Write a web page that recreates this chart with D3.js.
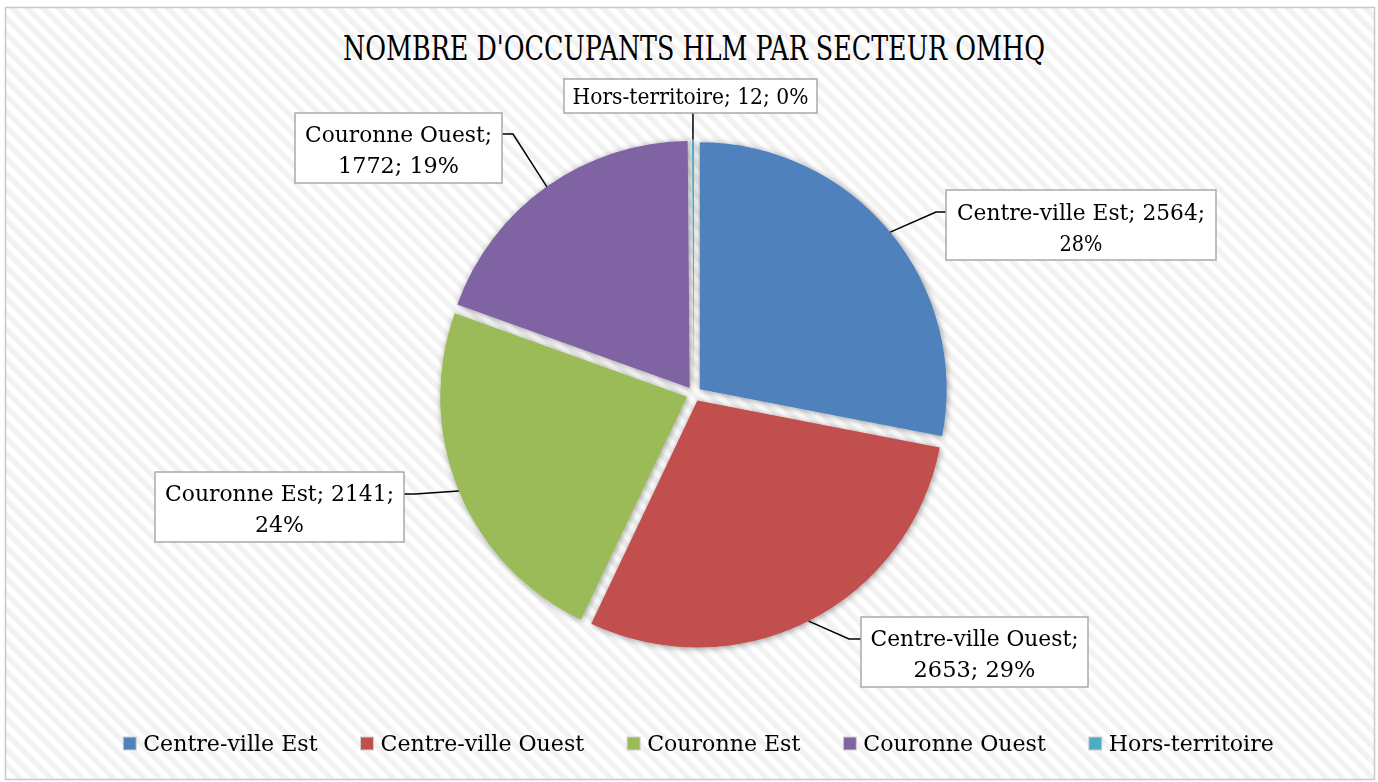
<!DOCTYPE html>
<html>
<head>
<meta charset="utf-8">
<script src="https://cdn.jsdelivr.net/npm/d3@7/dist/d3.min.js"></script>
<style>
  html, body { margin: 0; padding: 0; background: #ffffff; }
  svg { display: block; }
  text { font-family: "DejaVu Serif", "Liberation Serif", serif; fill: #000; }
</style>
</head>
<body>
<svg id="chart" width="1378" height="782"></svg>
<script>
// ---- data ----
const categories = ["Centre-ville Est", "Centre-ville Ouest", "Couronne Est", "Couronne Ouest", "Hors-territoire"];
const values = [2564, 2653, 2141, 1772, 12];
const percentLabels = [28, 29, 24, 19, 0];
const colors = ["#4F81BD", "#C0504D", "#9BBB59", "#8064A2", "#4BACC6"];
const title = "NOMBRE D'OCCUPANTS HLM PAR SECTEUR OMHQ";
// number of label parts on the first line (Excel wrapping)
const firstLineParts = [2, 1, 2, 1, 3];

// ---- layout ----
const W = 1378, H = 782;
const cx = 694, cy = 394, R = 247, explode = 7.4;
const labelLayout = [
  { box: [946, 190, 1216, 260], attach: [946, 212], elbow: [936, 212], baselines: [220, 251], widths: [248, 43] },
  { box: [861, 617, 1088, 687], attach: [861, 639], elbow: [849, 639], baselines: [646, 677], widths: [208, 122] },
  { box: [155, 472, 404, 542], attach: [404, 494], elbow: [415, 494], baselines: [501, 532], widths: [229, 49] },
  { box: [295, 113, 502, 183], attach: [502, 134], elbow: [513, 134], baselines: [142, 173], widths: [187, 121] },
  { box: [564, 79, 817, 113], attach: null, elbow: null, baselines: [104], widths: [236] }
];

const svg = d3.select("#chart");
const defs = svg.append("defs");

// diagonal hatch background
const pat = defs.append("pattern")
  .attr("id", "hatch")
  .attr("patternUnits", "userSpaceOnUse")
  .attr("width", 11).attr("height", 11)
  .attr("patternTransform", "rotate(-45)");
pat.append("rect").attr("width", 11).attr("height", 11).attr("fill", "#ffffff");
pat.append("rect").attr("width", 5.5).attr("height", 11).attr("fill", "#f2f2f2");

// shadow
const f = defs.append("filter").attr("id", "shadow")
  .attr("x", "-20%").attr("y", "-20%").attr("width", "140%").attr("height", "140%");
f.append("feDropShadow").attr("dx", 1).attr("dy", 1).attr("stdDeviation", 3)
  .attr("flood-color", "#000").attr("flood-opacity", 0.4);

svg.append("rect")
  .attr("x", 5.5).attr("y", 7.5).attr("width", 1369).attr("height", 772)
  .attr("fill", "url(#hatch)").attr("stroke", "#c8c8c8").attr("stroke-width", 1.5);

// title
svg.append("text")
  .attr("x", cx).attr("y", 60)
  .attr("text-anchor", "middle")
  .attr("font-size", 33)
  .attr("textLength", 702).attr("lengthAdjust", "spacingAndGlyphs")
  .text(title);

// pie
const pie = d3.pie().sort(null).value(d => d).startAngle(0).endAngle(2 * Math.PI);
const arcs = pie(values);
const arc = d3.arc().innerRadius(0).outerRadius(R);

const offsetOf = a => {
  const mid = (a.startAngle + a.endAngle) / 2;
  return [Math.sin(mid) * explode, -Math.cos(mid) * explode];
};

const pieG = svg.append("g").attr("transform", `translate(${cx},${cy})`).attr("filter", "url(#shadow)");
pieG.selectAll("path")
  .data(arcs)
  .join("path")
  .attr("transform", d => { const o = offsetOf(d); return `translate(${o[0]},${o[1]})`; })
  .attr("d", arc)
  .attr("fill", (d, i) => colors[i]);

// labels with leader lines
const labG = svg.append("g");
arcs.forEach((a, i) => {
  const L = labelLayout[i];
  const mid = (a.startAngle + a.endAngle) / 2;
  const o = offsetOf(a);
  const px = cx + o[0] + Math.sin(mid) * R;
  const py = cy + o[1] - Math.cos(mid) * R;
  let pts;
  if (L.attach) pts = [L.attach, L.elbow, [px, py]];
  else pts = [[px, L.box[3]], [px, py]];
  labG.append("path")
    .attr("d", d3.line()(pts))
    .attr("fill", "none").attr("stroke", "#000").attr("stroke-width", 1.5);
  labG.append("rect")
    .attr("x", L.box[0]).attr("y", L.box[1])
    .attr("width", L.box[2] - L.box[0]).attr("height", L.box[3] - L.box[1])
    .attr("fill", "#fff").attr("stroke", "#a9a9a9").attr("stroke-width", 1.5);
  const parts = [categories[i] + ";", values[i] + ";", percentLabels[i] + "%"];
  const lines = [parts.slice(0, firstLineParts[i]).join(" "), parts.slice(firstLineParts[i]).join(" ")].filter(s => s.length);
  const tx = (L.box[0] + L.box[2]) / 2;
  lines.forEach((s, j) => {
    labG.append("text")
      .attr("x", tx).attr("y", L.baselines[j])
      .attr("text-anchor", "middle")
      .attr("font-size", 22.5)
      .attr("textLength", L.widths[j]).attr("lengthAdjust", "spacingAndGlyphs")
      .text(s);
  });
});

// legend
const legG = svg.append("g");
const sq = 13, sqGap = 7, itemGap = 43, legendCenter = 698.5, legendBase = 751;
const items = categories.map((c, i) => {
  const g = legG.append("g");
  const t = g.append("text").attr("font-size", 22.1).attr("y", legendBase).text(c);
  return { g, t, w: t.node().getComputedTextLength(), i };
});
const total = d3.sum(items, d => sq + sqGap + d.w) + itemGap * (items.length - 1);
let x = legendCenter - total / 2;
items.forEach(d => {
  d.g.append("rect")
    .attr("x", x).attr("y", legendBase - 14).attr("width", sq).attr("height", sq)
    .attr("fill", colors[d.i]).attr("stroke", "#d0d0d0").attr("stroke-width", 1);
  d.t.attr("x", x + sq + sqGap);
  x += sq + sqGap + d.w + itemGap;
});
</script>
</body>
</html>
